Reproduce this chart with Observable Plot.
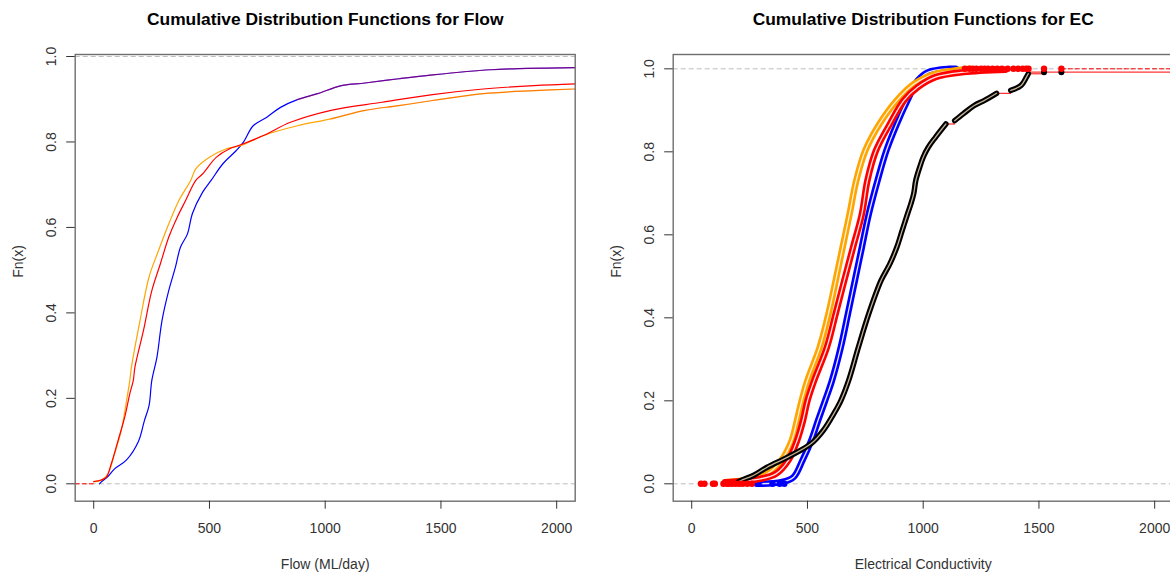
<!DOCTYPE html>
<html><head><meta charset="utf-8">
<script src="https://cdn.jsdelivr.net/npm/d3@7"></script>
<script src="https://cdn.jsdelivr.net/npm/@observablehq/plot@0.6"></script>
<style>
html,body{margin:0;padding:0;background:#fff;overflow:hidden;}
#wrap{position:relative;width:1170px;height:572px;overflow:hidden;background:#fff;}
.panel{position:absolute;top:0;}
</style></head><body><div id="wrap"></div>
<script>
// ---------- data ----------
const xTicks = [0, 500, 1000, 1500, 2000];
const yTicks = [0, 0.2, 0.4, 0.6, 0.8, 1.0];
const titles = ["Cumulative Distribution Functions for Flow", "Cumulative Distribution Functions for EC"];
const xLabels = ["Flow (ML/day)", "Electrical Conductivity"];
const yLabel = "Fn(x)";

// Flow ECDFs [value, Fn]
const flowBlue = [[25,0],[32,0.004],[61,0.017],[90,0.035],[142,0.056],[193,0.099],[219,0.148],[239,0.183],[251,0.242],[273,0.296],[295,0.382],[324,0.452],[353,0.507],[375,0.554],[405,0.585],[426,0.632],[470,0.682],[507,0.71],[558,0.749],[616,0.78],[646,0.799],[689,0.838],[748,0.858],[807,0.881],[880,0.899],[967,0.913],[1070,0.932],[1172,0.938],[1318,0.948],[1464,0.957],[1712,0.969],[1873,0.972],[2080,0.974]];
const flowRed = [[0,0.005],[32,0.009],[54,0.015],[76,0.047],[105,0.101],[134,0.156],[156,0.211],[171,0.242],[178,0.273],[215,0.359],[251,0.452],[288,0.515],[324,0.577],[361,0.624],[397,0.663],[441,0.71],[470,0.725],[529,0.764],[587,0.784],[638,0.794],[733,0.815],[850,0.846],[1025,0.874],[1245,0.893],[1464,0.911],[1683,0.924],[1902,0.932],[2080,0.936]];
const flowOrange = [[0,0.005],[32,0.008],[61,0.023],[90,0.07],[119,0.125],[142,0.195],[156,0.242],[163,0.273],[200,0.382],[239,0.484],[280,0.546],[324,0.608],[368,0.663],[419,0.71],[441,0.737],[500,0.764],[573,0.784],[638,0.792],[733,0.815],[880,0.838],[1025,0.854],[1172,0.874],[1318,0.885],[1464,0.897],[1683,0.913],[1902,0.92],[2080,0.924]];
const flowRedLead = [[-80,0],[0,0]];

// EC ECDFs [value, Fn]
const ecOrange = [[145,0.004],[221,0.008],[326,0.024],[387,0.056],[432,0.104],[455,0.153],[475,0.2],[500,0.249],[553,0.329],[591,0.41],[622,0.49],[652,0.57],[682,0.65],[711,0.731],[750,0.803],[811,0.867],[886,0.924],[962,0.964],[1053,0.988],[1150,0.997],[1204,1.0]];
const ecRed = [[145,0.004],[296,0.012],[364,0.024],[417,0.056],[455,0.104],[481,0.153],[500,0.2],[529,0.249],[584,0.329],[622,0.41],[659,0.49],[697,0.57],[735,0.65],[759,0.731],[796,0.803],[856,0.867],[917,0.924],[977,0.956],[1053,0.98],[1174,0.992],[1355,0.998]];
const ecBlue = [[281,0],[387,0.004],[440,0.016],[478,0.056],[516,0.104],[546,0.153],[576,0.2],[606,0.249],[644,0.329],[675,0.41],[705,0.49],[735,0.57],[765,0.65],[803,0.731],[841,0.803],[886,0.867],[932,0.924],[977,0.972],[1022,0.992],[1113,1.0],[1140,1.0]];
const ecBlackA = [[200,0.004],[213,0.008],[266,0.02],[326,0.04],[417,0.065],[516,0.097],[569,0.129],[614,0.169],[644,0.2],[678,0.249],[720,0.329],[765,0.41],[818,0.49],[856,0.53],[886,0.57],[909,0.61],[932,0.65],[947,0.675],[959,0.699],[968,0.731],[985,0.763],[1000,0.787],[1022,0.811],[1053,0.835],[1098,0.867]];
const ecBlackB = [[1136,0.875],[1174,0.892],[1219,0.911],[1265,0.924],[1317,0.941]];
const ecBlackC = [[1378,0.948],[1423,0.96],[1446,0.98],[1454,0.988]];
const ecBlackEnd = [[1522,0.992],[1597,0.992]];
const ecRedLow = [40,55,92,100,137,153,160,175,190,205,220,240,260];
const ecRedHigh = [1180,1200,1215,1230,1250,1265,1280,1300,1320,1340,1365,1390,1410,1430,1445,1455,1522,1597];
const ecBlueLow = [289,349,380,400];
const ecRedSteps = [[[1098,0.867],[1136,0.867]],[[1317,0.941],[1378,0.941]],[[1454,0.988],[1522,0.988]]];
const ecRedTail = [[1454,0.992],[2080,0.992]];
const ecRedTop = [[1597,1],[2080,1]];

// ---------- drawing ----------
const FONT = "'Liberation Sans', Arial, Helvetica, sans-serif";
const X = d => d[0], Y = d => d[1];

function panel(i, ydomain, marks) {
  return Plot.plot({
    width: 600, height: 572,
    marginLeft: 74.7, marginRight: 25.3, marginTop: 54, marginBottom: 71.3,
    style: {fontFamily: FONT, fontSize: "14px", color: "#333", background: "transparent", overflow: "visible"},
    x: {domain: [-80, 2080]},
    y: {domain: ydomain},
    marks: [
      Plot.ruleY([0, 1], {stroke: "#bdbdbd", strokeDasharray: "5,3"}),
      ...marks,
      Plot.frame({stroke: "#6e6e6e", strokeWidth: 1.4}),
      Plot.axisX({ticks: xTicks, tickSize: 8, tickPadding: 14, tickFormat: d => String(d), fontSize: 14}),
      Plot.axisY({ticks: yTicks, tickSize: 8.5, tickFormat: () => ""}),
      Plot.text(yTicks, {y: d => d, text: d => d.toFixed(1), frameAnchor: "left", dx: -24, rotate: -90, textAnchor: "middle", lineAnchor: "middle", fill: "#333", fontSize: 14}),
      Plot.text([titles[i]], {text: d => d, frameAnchor: "top", dy: -35, lineAnchor: "middle", fontWeight: "bold", fontSize: 17.4, fill: "#000"}),
      Plot.text([xLabels[i]], {text: d => d, frameAnchor: "bottom", dy: 63.3, lineAnchor: "middle", fontSize: 14, fill: "#333"}),
      Plot.text([yLabel], {text: d => d, frameAnchor: "left", dx: -56.7, rotate: -90, lineAnchor: "middle", fontSize: 14, fill: "#333"})
    ]
  });
}

const left = panel(0, [-0.0407, 1.0047], [
  Plot.line(flowRedLead, {x: X, y: Y, stroke: "red", strokeWidth: 1, strokeDasharray: "4,3"}),
  Plot.line(flowBlue, {x: X, y: Y, stroke: "#0000ff", strokeWidth: 1.2, curve: "catmull-rom"}),
  Plot.line(flowBlue.filter(d => d[0] >= 880), {x: X, y: Y, stroke: "red", strokeWidth: 1.2, strokeOpacity: 0.45, curve: "catmull-rom"}),
  Plot.line(flowOrange, {x: X, y: Y, stroke: "orange", strokeWidth: 1.2, curve: "catmull-rom"}),
  Plot.line(flowOrange.filter(d => d[0] >= 1000), {x: X, y: Y, stroke: "red", strokeWidth: 1.2, strokeOpacity: 0.25, curve: "catmull-rom"}),
  Plot.line(flowRed, {x: X, y: Y, stroke: "red", strokeWidth: 1.2, curve: "catmull-rom"})
]);

function band(data, color, inner, w = 6.5) {
  return [
    Plot.line(data, {x: X, y: Y, stroke: color, strokeWidth: w, strokeLinecap: "round", strokeLinejoin: "round", curve: "catmull-rom"}),
    Plot.line(data, {x: X, y: Y, stroke: inner, strokeWidth: 1.3, strokeOpacity: 0.95, curve: "catmull-rom"})
  ];
}

const right = panel(1, [-0.0419, 1.0345], [
  ...band(ecBlue, "#0000ff", "#f4f4ff"),
  Plot.dot(ecBlueLow, {x: d => d, y: 0, r: 3.2, fill: "#0000ff"}),
  ...band(ecOrange, "orange", "#fff6e6"),
  ...band(ecRed, "red", "#fff0f0"),
  ...ecRedSteps.map(s => Plot.line(s, {x: X, y: Y, stroke: "red", strokeWidth: 1})),
  Plot.line(ecRedTail, {x: X, y: Y, stroke: "red", strokeWidth: 1.2, strokeOpacity: 0.8}),
  Plot.line(ecRedTop, {x: X, y: Y, stroke: "red", strokeWidth: 1, strokeDasharray: "4,3"}),
  ...band(ecBlackA, "black", "#cdbb9c", 5.5),
  ...band(ecBlackB, "black", "#cdbb9c", 5.5),
  ...band(ecBlackC, "black", "#cdbb9c", 5.5),
  Plot.dot(ecBlackEnd, {x: X, y: Y, r: 3, fill: "black"}),
  Plot.dot(ecRedLow, {x: d => d, y: 0, r: 3.2, fill: "red"}),
  Plot.dot(ecRedHigh, {x: d => d, y: 1, r: 3.2, fill: "red"})
]);

const wrap = document.getElementById("wrap");
left.classList.add("panel"); left.style.left = "0px";
right.classList.add("panel"); right.style.left = "598px";
wrap.appendChild(left);
wrap.appendChild(right);
</script>
</body></html>
